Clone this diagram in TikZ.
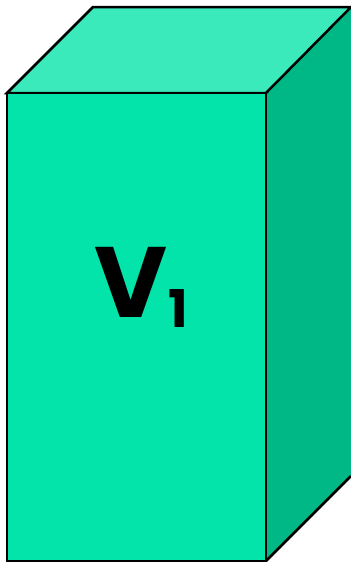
\documentclass[tikz,border=0pt]{standalone}
\usepackage{fontspec}
\setmainfont{Poppins}
\definecolor{frontc}{RGB}{2,228,170}
\definecolor{topc}{RGB}{58,234,186}
\definecolor{sidec}{RGB}{0,183,134}
\begin{document}
\begin{tikzpicture}[x=1pt,y=-1pt,
  face/.style={draw=black,line width=2.5pt,line join=miter}]
\useasboundingbox (0,0) rectangle (351,563);
\fill[sidec] (266,93) -- (352,7) -- (352,476) -- (266,561) -- cycle;
\draw[face,fill=topc] (7,93) -- (93,7) -- (351,7) -- (266,93) -- cycle;
\draw[face] (93,7) -- (353,7);
\draw[face] (266,561) -- (351,476);
\draw[face,fill=frontc] (7,93) rectangle (266,561);
\node[anchor=base,inner sep=0pt] (v) at (131,317) {\fontsize{100}{100}\selectfont\bfseries V};
\node[anchor=base west,inner sep=0pt] (sub) at (168,327) {\fontsize{52}{52}\selectfont\bfseries 1};
\end{tikzpicture}
\end{document}
